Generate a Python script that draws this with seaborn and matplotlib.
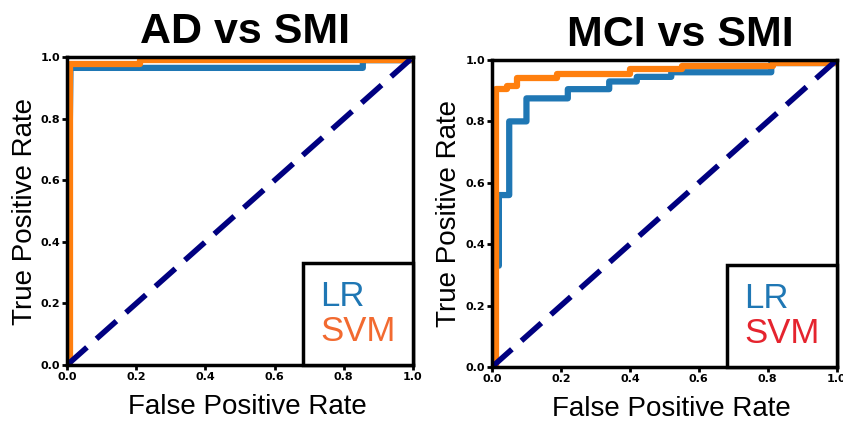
import matplotlib
matplotlib.use("Agg")
import matplotlib.pyplot as plt
import seaborn as sns
from matplotlib.lines import Line2D

# ---------------------------------------------------
# ROC data
# ---------------------------------------------------
AD_LR_FPR = [0.0, 0.01, 0.855, 0.855, 1.0]
AD_LR_TPR = [0.0, 0.965, 0.965, 0.99, 0.99]
AD_SVM_FPR = [0.0, 0.01, 0.01, 0.21, 0.21, 1.0]
AD_SVM_TPR = [0.0, 0.0, 0.978, 0.978, 0.99, 0.99]

MCI_LR_FPR = [0.0, 0.01, 0.02, 0.02, 0.05, 0.05, 0.10, 0.10, 0.22, 0.22,
              0.34, 0.34, 0.42, 0.42, 0.52, 0.52, 0.81, 0.81, 1.0]
MCI_LR_TPR = [0.0, 0.33, 0.33, 0.56, 0.56, 0.80, 0.80, 0.875, 0.875, 0.905,
              0.905, 0.93, 0.93, 0.945, 0.945, 0.96, 0.96, 0.99, 0.99]
MCI_SVM_FPR = [0.0, 0.011, 0.011, 0.045, 0.045, 0.072, 0.072, 0.19, 0.19,
               0.40, 0.40, 0.55, 0.55, 0.815, 0.815, 1.0]
MCI_SVM_TPR = [0.0, 0.0, 0.905, 0.905, 0.915, 0.915, 0.94, 0.94, 0.955,
               0.955, 0.97, 0.97, 0.982, 0.982, 0.99, 0.99]

CHANCE = [0.0, 1.0]
TICKS = [0.0, 0.2, 0.4, 0.6, 0.8, 1.0]
TICK_LABELS = ["0.0", "0.2", "0.4", "0.6", "0.8", "1.0"]

panels = [
    ("AD vs SMI", AD_LR_FPR, AD_LR_TPR, AD_SVM_FPR, AD_SVM_TPR, "#f26a30"),
    ("MCI vs SMI", MCI_LR_FPR, MCI_LR_TPR, MCI_SVM_FPR, MCI_SVM_TPR, "#e5242e"),
]

sns.set_theme(style="white")
plt.rcParams["font.family"] = ["Liberation Sans", "DejaVu Sans"]
plt.rcParams["text.color"] = "black"
plt.rcParams["axes.labelcolor"] = "black"
plt.rcParams["xtick.color"] = "black"
plt.rcParams["ytick.color"] = "black"

fig = plt.figure(figsize=(8.43, 4.23), dpi=100)
axes = [
    fig.add_axes([0.0795, 0.137, 0.4104, 0.728]),
    fig.add_axes([0.5836, 0.1324, 0.409, 0.7258]),
]
title_x = [0.515, 0.545]

for i, (ax, (title, lr_x, lr_y, svm_x, svm_y, svm_txt)) in enumerate(zip(axes, panels)):
    sns.lineplot(x=lr_x, y=lr_y, ax=ax, color="#1f77b4", lw=4.5,
                 sort=False, estimator=None)
    sns.lineplot(x=svm_x, y=svm_y, ax=ax, color="#ff7f0e", lw=4.5,
                 sort=False, estimator=None)
    sns.lineplot(x=CHANCE, y=CHANCE, ax=ax, color="#000080", lw=4,
                 linestyle=(0, (4.8, 2.3)), sort=False, estimator=None)

    ax.set_xlim(0, 1)
    ax.set_ylim(0, 1)
    ax.set_xticks(TICKS)
    ax.set_yticks(TICKS)
    ax.set_xticklabels(TICK_LABELS)
    ax.set_yticklabels(TICK_LABELS)
    for lab in ax.get_xticklabels() + ax.get_yticklabels():
        lab.set_family("DejaVu Sans")
        lab.set_fontweight("bold")
        lab.set_fontsize(8)
    ax.tick_params(axis="both", direction="out", length=3.5, width=2,
                   color="black", labelcolor="black", pad=1.5,
                   left=True, bottom=True)

    for sp in ax.spines.values():
        sp.set_visible(True)
        sp.set_color("black")
        sp.set_linewidth(2.5)

    ax.set_xlabel("False Positive Rate", fontsize=20)
    ax.xaxis.set_label_coords(0.52, -0.095)
    ax.set_ylabel("True Positive Rate", fontsize=20)
    ax.yaxis.set_label_coords(-0.083 if i == 0 else -0.087, 0.5)
    ax.set_title(title, fontsize=31, fontweight="bold", x=title_x[i], pad=10)

    handles = [Line2D([], [], color="none"), Line2D([], [], color="none")]
    leg = ax.legend(handles, ["LR", "SVM"], loc="lower right",
                    labelcolor=["#1f77b4", svm_txt], fontsize=25,
                    handlelength=0, handletextpad=0, borderaxespad=0,
                    borderpad=0.5, labelspacing=0.05,
                    frameon=True, fancybox=False, framealpha=1)
    leg.get_frame().set_edgecolor("black")
    leg.get_frame().set_linewidth(2.5)

fig.savefig("out.png", dpi=100)
